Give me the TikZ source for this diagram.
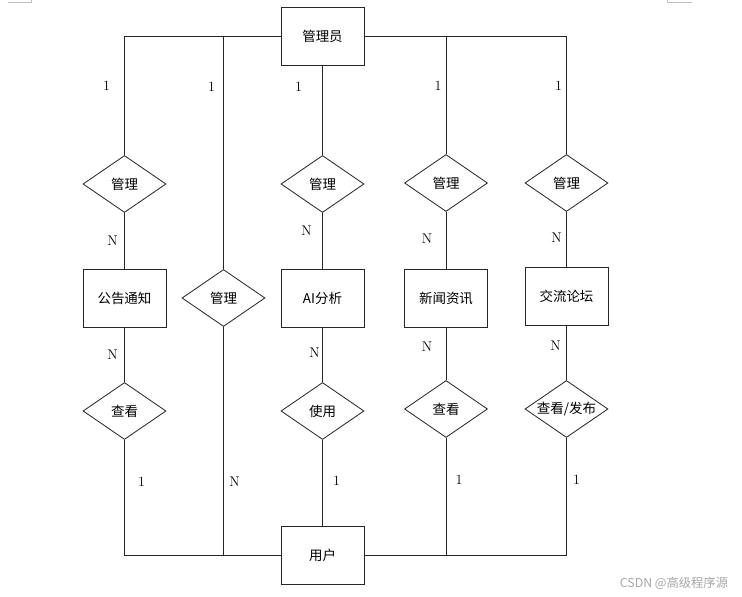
\documentclass[tikz,border=0pt]{standalone}
\usepackage{fontspec}
\newfontfamily\cjk{Noto Sans CJK SC}
\usetikzlibrary{shapes.geometric}
\begin{document}
\begin{tikzpicture}[x=0.03cm,y=-0.03cm,line width=0.7pt,draw=black!85,
	entity/.style={rectangle,draw,minimum width=2.49cm,minimum height=1.74cm,inner sep=0pt,font={\cjk\fontsize{11.5}{14}\selectfont}},
	rel/.style={diamond,draw,aspect=1.46,minimum width=2.49cm,minimum height=1.71cm,inner sep=0pt,font={\cjk\fontsize{11.5}{14}\selectfont}},
	card/.style={inner sep=0pt,font=\fontsize{12}{14}\selectfont}]
\useasboundingbox (0,0) rectangle (742,597);

	\node[entity](admin) at (322.5,36){管理员};
	\node[entity](user) at (322.5,555){用户};

	\node[rel](manage1) at (124.5,184){管理};
	\node[rel](manage3) at (322.5,184){管理};
	\node[rel](manage4) at (446,183){管理};
	\node[rel](manage5) at (566.5,183){管理};
	\node[rel](manage2) at (223.5,298){管理};

	\node[entity](notice) at (124.5,298){公告通知};
	\node[entity](ai) at (322.5,298){AI分析};
	\node[entity](news) at (446,298){新闻资讯};
	\node[entity](forum) at (566.5,296){交流论坛};

	\node[rel](view1) at (124.5,411){查看};
	\node[rel](use3) at (322.5,411){使用};
	\node[rel](view4) at (446,409){查看};
	\node[rel](post5) at (566.5,409){查看/发布};

% admin side
\draw(admin.west)-|(manage1.north)node[card,pos=.71,xshift=-0.54cm]{1};
\draw(admin.west)-|(manage2.north)node[card,pos=.61,xshift=-0.36cm]{1};
\draw(admin.south)--(manage3.north)node[card,pos=.24,xshift=-0.72cm]{1};
\draw(admin.east)-|(manage4.north)node[card,pos=.71,xshift=-0.24cm]{1};
\draw(admin.east)-|(manage5.north)node[card,pos=.71,xshift=-0.24cm]{1};

	\draw(manage1)--(notice)node[card,midway,xshift=-0.36cm]{N};
	\draw(manage3)--(ai)node[card,pos=.32,xshift=-0.48cm]{N};
	\draw(manage4)--(news)node[card,pos=.47,xshift=-0.57cm]{N};
	\draw(manage5)--(forum)node[card,pos=.47,xshift=-0.3cm]{N};

	\draw(notice)--(view1)node[card,midway,xshift=-0.36cm]{N};
	\draw(ai)--(use3)node[card,pos=.46,xshift=-0.24cm]{N};
	\draw(news)--(view4)node[card,pos=.37,xshift=-0.57cm]{N};
	\draw(forum)--(post5)node[card,pos=.38,xshift=-0.33cm]{N};

% user side
\draw(view1.south)|-(user.west)node[card,pos=.18,xshift=0.51cm]{1};
\draw(manage2.south)|-(user.west)node[card,pos=.34,xshift=0.33cm]{N};
\draw(use3.south)--(user.north)node[card,pos=.48,xshift=0.42cm]{1};
\draw(view4.south)|-(user.east)node[card,pos=.18,xshift=0.39cm]{1};
\draw(post5.south)|-(user.east)node[card,pos=.18,xshift=0.3cm]{1};

\draw[black!25,line width=0.4pt](8,2)--(31,2)--(31,0);
\draw[black!25,line width=0.4pt](692,2)--(667,2)--(667,0);
\node[text=black!35,font={\cjk\fontsize{10.5}{12}\selectfont}](mark) at (674,583){CSDN @高级程序源};
\end{tikzpicture}
\end{document}
